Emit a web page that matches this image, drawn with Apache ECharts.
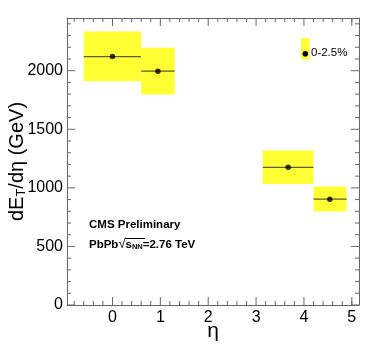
<!DOCTYPE html>
<html>
<head>
<meta charset="utf-8">
<script src="https://cdn.jsdelivr.net/npm/echarts@6/dist/echarts.min.js"></script>
<style>
  html, body { margin: 0; padding: 0; background: #fff; }
  #main { width: 374px; height: 359px; }
</style>
</head>
<body>
<div id="main"></div>
<script>
// measured points (eta, dET/deta) with systematic boxes
const eta = [0, 0.95, 3.67, 4.54];
const dET = [2121, 1996, 1175, 903];
const etaLo = [-0.6, 0.6, 3.14, 4.2];
const etaHi = [0.6, 1.3, 4.2, 4.89];
const sysHi = [2334, 2195, 1318, 1011];
const sysLo = [1911, 1797, 1033, 798];

// tick labels
const xMajor = [0, 1, 2, 3, 4, 5];
const xMinor = [-0.8, -0.6, -0.4, -0.2, 0.2, 0.4, 0.6, 0.8, 1.2, 1.4, 1.6, 1.8,
  2.2, 2.4, 2.6, 2.8, 3.2, 3.4, 3.6, 3.8, 4.2, 4.4, 4.6, 4.8, 5.0];
const yMajor = [0, 500, 1000, 1500, 2000];
const yMinor = [100, 200, 300, 400, 600, 700, 800, 900, 1100, 1200, 1300, 1400,
  1600, 1700, 1800, 1900, 2100, 2200, 2300, 2400];

const xMin = -0.95, xMax = 5.15, yMin = 0, yMax = 2450;
const font = "'Liberation Sans', Arial, sans-serif";
const frameColor = "#666";

const chart = echarts.init(document.getElementById("main"));

function frameAxis(pos, opts) {
  const isX = pos === "bottom" || pos === "top";
  return Object.assign({
    type: "value", position: pos,
    min: isX ? xMin : yMin,
    max: isX ? xMax : yMax,
    axisLine: { show: true, onZero: false, lineStyle: { color: frameColor, width: 1 } },
    axisTick: { show: false },
    axisLabel: { show: false },
    splitLine: { show: false },
  }, opts || {});
}

// ROOT-style inward ticks on all four sides: [0 = x / 1 = y, value, length]
const tickData = []
  .concat(xMajor.map((v) => [0, v, 8]), xMinor.map((v) => [0, v, 4]))
  .concat(yMajor.map((v) => [1, v, 8]), yMinor.map((v) => [1, v, 4]));

const boxData = eta.map((e, i) => [e, dET[i], etaLo[i], etaHi[i], sysLo[i], sysHi[i]]);

const option = {
  animation: false,
  grid: { left: 67, right: 15, top: 18, bottom: 54, outerBoundsMode: "none" },
  xAxis: [
    frameAxis("bottom", {
      axisLabel: { show: true, customValues: xMajor, fontSize: 16, color: "#000", fontFamily: font, margin: 5 },
      name: "η", nameLocation: "middle", nameGap: 16, nameMoveOverlap: false,
      nameTextStyle: { fontSize: 21, color: "#000", fontFamily: font },
    }),
    frameAxis("top"),
  ],
  yAxis: [
    frameAxis("left", {
      axisLabel: { show: true, customValues: yMajor, fontSize: 16, color: "#000", fontFamily: font, margin: 4,
        formatter: (v) => String(v) },
      name: "{a|dE}{s|T}{a|/dη (GeV)}", nameLocation: "middle", nameGap: 39, nameRotate: 90,
      nameMoveOverlap: false,
      nameTextStyle: {
        fontFamily: font,
        rich: {
          a: { fontSize: 20, color: "#000", fontFamily: font },
          s: { fontSize: 13, color: "#000", fontFamily: font, padding: [9, 0, 0, 0] },
        },
      },
    }),
    frameAxis("right"),
  ],
  series: [
    {
      type: "custom",
      xAxisIndex: 0, yAxisIndex: 0,
      data: boxData,
      renderItem: function (params, api) {
        const p0 = api.coord([api.value(2), api.value(5)]);
        const p1 = api.coord([api.value(3), api.value(4)]);
        const l0 = api.coord([api.value(2), api.value(1)]);
        const l1 = api.coord([api.value(3), api.value(1)]);
        return {
          type: "group",
          children: [
            { type: "rect", shape: { x: p0[0], y: p0[1], width: p1[0] - p0[0], height: p1[1] - p0[1] },
              style: { fill: "#ffff33" } },
            { type: "line", shape: { x1: l0[0], y1: l0[1], x2: l1[0], y2: l1[1] },
              style: { stroke: "#5c5c2e", lineWidth: 1.2 } },
          ],
        };
      },
      z: 1,
    },
    {
      type: "scatter",
      xAxisIndex: 0, yAxisIndex: 0,
      data: eta.map((e, i) => [e, dET[i]]),
      symbol: "circle", symbolSize: 5.5,
      itemStyle: { color: "#000" },
      z: 3,
    },
    {
      // frame ticks
      type: "custom",
      xAxisIndex: 0, yAxisIndex: 0,
      data: tickData,
      silent: true,
      clip: false,
      renderItem: function (params, api) {
        const isY = api.value(0) === 1;
        const v = api.value(1);
        const len = api.value(2);
        const style = { stroke: frameColor, lineWidth: 1 };
        let a, b;
        if (isY) {
          a = api.coord([xMin, v]);
          b = api.coord([xMax, v]);
          return { type: "group", children: [
            { type: "line", shape: { x1: a[0], y1: a[1], x2: a[0] + len, y2: a[1] }, style },
            { type: "line", shape: { x1: b[0], y1: b[1], x2: b[0] - len, y2: b[1] }, style },
          ] };
        }
        a = api.coord([v, yMin]);
        b = api.coord([v, yMax]);
        return { type: "group", children: [
          { type: "line", shape: { x1: a[0], y1: a[1], x2: a[0], y2: a[1] - len }, style },
          { type: "line", shape: { x1: b[0], y1: b[1], x2: b[0], y2: b[1] + len }, style },
        ] };
      },
      z: 4,
    },
  ],
  graphic: [
    // legend
    { type: "rect", shape: { x: 301, y: 38, width: 8.5, height: 21.5 }, style: { fill: "#ffff33" } },
    { type: "circle", shape: { cx: 305.3, cy: 53.8, r: 2.8 }, style: { fill: "#000" } },
    { type: "text", left: 311, top: 47, style: { text: "0-2.5%", fontSize: 11.5, fill: "#000", fontFamily: font } },
    // labels
    { type: "text", left: 89, top: 219, style: { text: "CMS Preliminary", fontSize: 11.5, fontWeight: "bold", fill: "#000", fontFamily: font } },
    { type: "text", left: 89, top: 238, style: {
        text: "{b|PbPb}{r|√}{b|s}{n|NN}{b|=2.76 TeV}",
        rich: {
          b: { fontSize: 11.5, fontWeight: "bold", fill: "#000", fontFamily: font },
          r: { fontSize: 13, fill: "#000", fontFamily: font },
          n: { fontSize: 7.5, fontWeight: "bold", fill: "#000", fontFamily: font, padding: [5, 0, 0, 0] },
        },
      } },
    { type: "line", shape: { x1: 125, y1: 238.5, x2: 145, y2: 238.5 }, style: { stroke: "#000", lineWidth: 1 } },
  ],
};

chart.setOption(option);
</script>
</body>
</html>
